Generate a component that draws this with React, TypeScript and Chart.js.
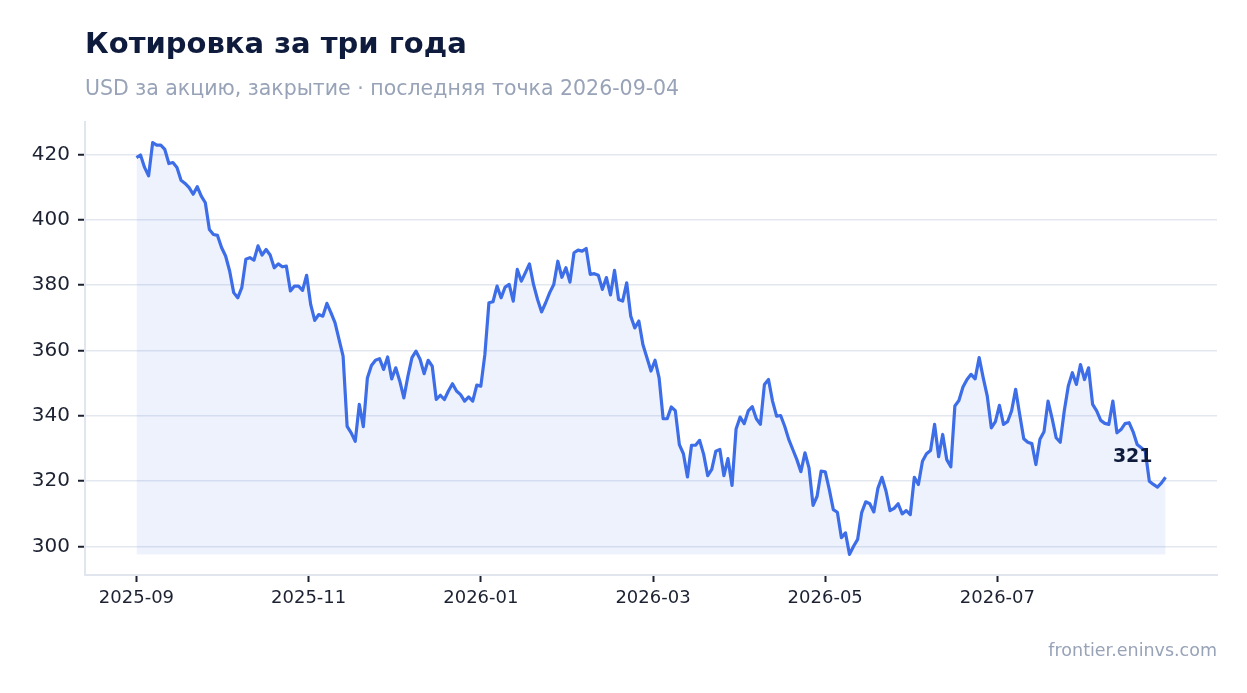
import { useEffect, useRef } from "react"
import { Chart, registerables } from "chart.js"

Chart.register(...registerables)

const TITLE = "Котировка за три года"
const SUBTITLE = "USD за акцию, закрытие · последняя точка 2026-09-04"
const SOURCE = "frontier.eninvs.com"

// daily closes, oldest first
const closePrices = [
  419, 419.8, 416, 413.4, 423.6, 422.8, 422.8, 421.5, 417.2, 417.5, 416, 412.1, 411.1, 409.8, 407.8, 410.1, 407.2, 405.2,
  397, 395.5, 395.2, 391.5, 388.9, 384.3, 377.7, 376.1, 379.2, 387.9, 388.4, 387.6, 392, 389.2, 390.9, 389.2, 385.3, 386.5, 385.6, 385.8,
  378.2, 379.7, 379.7, 378.4, 383, 374.1, 369.2, 371, 370.5, 374.4, 371.6, 368.5, 363.4, 358.3,
  336.8, 334.8, 332.2, 343.5, 336.7, 351.6, 355.4, 357, 357.5, 354.2, 358, 351.3, 354.7, 350.6, 345.5, 352.1, 357.8,
  359.8, 357.3, 352.9, 357, 355.2, 345, 346.3, 345, 347.6, 349.8, 347.6, 346.5, 344.5, 345.8, 344.5, 349.4, 349.1, 358.8, 374.6, 374.9, 379.7, 376.1, 379.4,
  380.2, 375.1, 384.8, 381.2, 383.8, 386.5, 380.2, 375.6, 371.8, 374.6, 377.7, 380.2, 387.3, 382.4, 385.3, 380.9, 389.9, 390.7, 390.4, 391.2, 383.3, 383.5, 383,
  378.7, 382.3, 377, 384.5, 375.6, 375.1, 380.7, 370.5, 366.9, 369, 361.8, 357.8, 353.7, 357, 351.6, 339.1, 339.1, 342.7, 341.6, 331.2, 328.4, 321.3, 331, 331,
  332.5, 328.2, 321.7, 323.6, 329.2, 329.7, 321.7, 326.9, 318.7, 336, 339.6, 337.6, 341.5, 342.8, 339.1, 337.4, 349.6, 351.1, 344.5, 339.9, 340.1, 336.8, 332.8,
  329.7, 326.6, 322.9, 328.7, 324.1, 312.6, 315.4, 323.1, 322.9, 317.5, 311.3, 310.5, 302.7, 304.2, 297.6, 300.1, 302.2, 310.4, 313.7, 313.1, 310.6, 317.8, 321.2,
  317, 311, 311.7, 313.1, 310, 311, 309.8, 321.2, 319, 326.1, 328.4, 329.4, 337.4, 327.5, 334.3, 326.6, 324.4, 343, 344.7, 348.8, 351.1, 352.7, 351.3,
  357.8, 351.6, 346, 336.3, 338.2, 343.2, 337.4, 338.2, 341.5, 348.1, 340.4, 333, 331.9, 331.5, 325.1, 332.8, 335.1, 344.5, 339.2, 333.3, 331.9, 341.5, 349.1,
  353.2, 349.6, 355.7, 351.1, 354.7, 343.5, 341.5, 338.6, 337.7, 337.4, 344.5, 334.8, 335.8, 337.6, 337.9, 335.1, 331.2, 330.2, 329.2, 320, 319, 318.2, 319.5, 321.2,
]

const xTickLabels = ["2025-09", "2025-11", "2026-01", "2026-03", "2026-05", "2026-07"]
const POINTS_PER_TICK = 42.5 // trading days between labelled months
const yTickValues = [300, 320, 340, 360, 380, 400, 420]

const FONT = '"DejaVu Sans", sans-serif'
const LINE = "#3d6ee8"
const INK = "#1c2232"
const NAVY = "#0f1b3d"
const MUTED = "#98a3b8"
const AXIS = "#e1e5ee"

const lastValueLabel = {
  id: "lastValueLabel",
  afterDatasetsDraw(chart: Chart) {
    const meta = chart.getDatasetMeta(0)
    const pt = meta.data[meta.data.length - 1]
    if (!pt) return
    const ctx = chart.ctx
    ctx.save()
    ctx.font = `bold 19px ${FONT}`
    ctx.fillStyle = NAVY
    ctx.textAlign = "right"
    ctx.textBaseline = "middle"
    ctx.fillText(String(Math.round(closePrices[closePrices.length - 1])), pt.x - 13, pt.y - 20)
    ctx.restore()
  },
}

function PriceChart() {
  const chartRef = useRef<HTMLCanvasElement>(null)
  const chartInstance = useRef<Chart | null>(null)

  useEffect(() => {
    if (!chartRef.current) return
    if (chartInstance.current) chartInstance.current.destroy()

    const lo = Math.min(...closePrices)
    const hi = Math.max(...closePrices)
    const yPad = (hi - lo) * 0.05
    const xSpan = closePrices.length - 1

    chartInstance.current = new Chart(chartRef.current, {
      type: "line",
      data: {
        datasets: [
          {
            data: closePrices.map((v, i) => ({ x: i, y: v })),
            borderColor: LINE,
            borderWidth: 3.2,
            borderJoinStyle: "round",
            pointRadius: 0,
            tension: 0,
            fill: { value: lo },
            backgroundColor: "rgba(61, 110, 232, 0.09)",
          },
        ],
      },
      options: {
        animation: false,
        responsive: false,
        layout: { padding: { left: 0, right: 30, top: 122, bottom: 0 } },
        plugins: { legend: { display: false }, tooltip: { enabled: false } },
        scales: {
          x: {
            type: "linear",
            min: -xSpan * 0.05,
            max: xSpan * 1.05,
            afterFit: (scale) => {
              scale.height = 118
            },
            afterBuildTicks: (scale) => {
              scale.ticks = xTickLabels.map((_, k) => ({ value: k * POINTS_PER_TICK }))
            },
            ticks: {
              callback: (_v, index) => xTickLabels[index],
              color: INK,
              font: { family: FONT, size: 18 },
              padding: 6,
              maxRotation: 0,
            },
            grid: {
              drawOnChartArea: false,
              drawTicks: true,
              tickLength: 7,
              tickWidth: 2,
              tickColor: INK,
            },
            border: { display: true, color: AXIS, width: 2 },
          },
          y: {
            min: lo - yPad,
            max: hi + yPad,
            afterFit: (scale) => {
              scale.width = 85
            },
            afterBuildTicks: (scale) => {
              scale.ticks = yTickValues.map((value) => ({ value }))
            },
            ticks: {
              color: INK,
              font: { family: FONT, size: 20 },
              padding: 8,
            },
            grid: {
              color: "#e3e7f0",
              lineWidth: 1.5,
              tickLength: 7,
              tickWidth: 2,
              tickColor: INK,
            },
            border: { display: true, color: AXIS, width: 2 },
          },
        },
      },
      plugins: [lastValueLabel],
    })

    return () => {
      if (chartInstance.current) {
        chartInstance.current.destroy()
        chartInstance.current = null
      }
    }
  }, [])

  return <canvas ref={chartRef} width={1247} height={693} style={{ width: 1247, height: 693, display: "block" }} />
}

export default function App() {
  return (
    <div style={{ position: "fixed", left: 0, top: 0, width: 1247, height: 693, background: "#fff", fontFamily: FONT }}>
      <PriceChart />
      <div style={{ position: "absolute", left: 85, top: 28.5, fontSize: 29, lineHeight: 1, fontWeight: "bold", color: NAVY, whiteSpace: "nowrap" }}>
        {TITLE}
      </div>
      <div style={{ position: "absolute", left: 85, top: 77.5, fontSize: 20.5, lineHeight: 1, color: MUTED, whiteSpace: "nowrap" }}>
        {SUBTITLE}
      </div>
      <div style={{ position: "absolute", right: 30, top: 642, fontSize: 17.5, lineHeight: 1, color: MUTED, whiteSpace: "nowrap" }}>
        {SOURCE}
      </div>
    </div>
  )
}
